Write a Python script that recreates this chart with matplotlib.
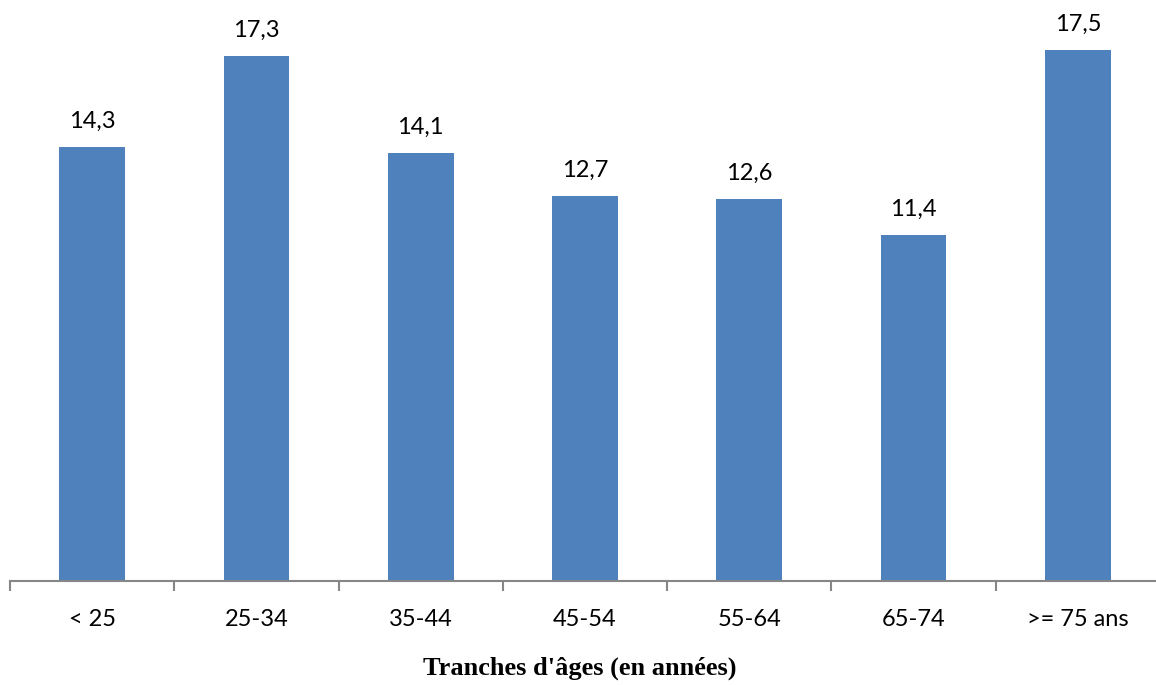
import matplotlib
matplotlib.use("Agg")
import matplotlib.pyplot as plt
import numpy as np

# tranches d'ages et valeurs
categories = ["< 25", "25-34", "35-44", "45-54", "55-64", "65-74", ">= 75 ans"]
values = [14.3, 17.3, 14.1, 12.7, 12.6, 11.4, 17.5]
labels = ["14,3", "17,3", "14,1", "12,7", "12,6", "11,4", "17,5"]

W, H = 1156, 685
fig = plt.figure(figsize=(W / 100, H / 100), dpi=100)
ax = fig.add_axes([10 / W, (H - 581) / H, 1150 / W, 581 / H])

x = np.arange(len(categories))
ax.bar(x, values, width=0.4, color="#4F81BD")
ax.set_xlim(-0.5, len(categories) - 0.5)
ax.set_ylim(0, 581 / 30.343)

for xi, v, lab in zip(x, values, labels):
    ax.annotate(lab, (xi, v), xytext=(0, 18.5), textcoords="offset points",
                ha="center", va="center", fontsize=17, family="Lato")

for s in ["top", "right", "left"]:
    ax.spines[s].set_visible(False)
ax.spines["bottom"].set_color("#868686")
ax.spines["bottom"].set_linewidth(1.5)
ax.set_yticks([])

ax.set_xticks(x)
ax.set_xticklabels(categories, fontsize=17, family="Lato")
ax.tick_params(axis="x", which="major", length=0, pad=20.5)
ax.set_xticks(np.arange(-0.5, len(categories), 1), minor=True)
ax.tick_params(axis="x", which="minor", length=7, width=1.5, color="#868686")

fig.text(580 / W, 1 - 668 / H, "Tranches d'âges (en années)", ha="center", va="center",
         fontsize=19, fontweight="bold", family="Liberation Serif")

fig.savefig("out.png", dpi=100)
